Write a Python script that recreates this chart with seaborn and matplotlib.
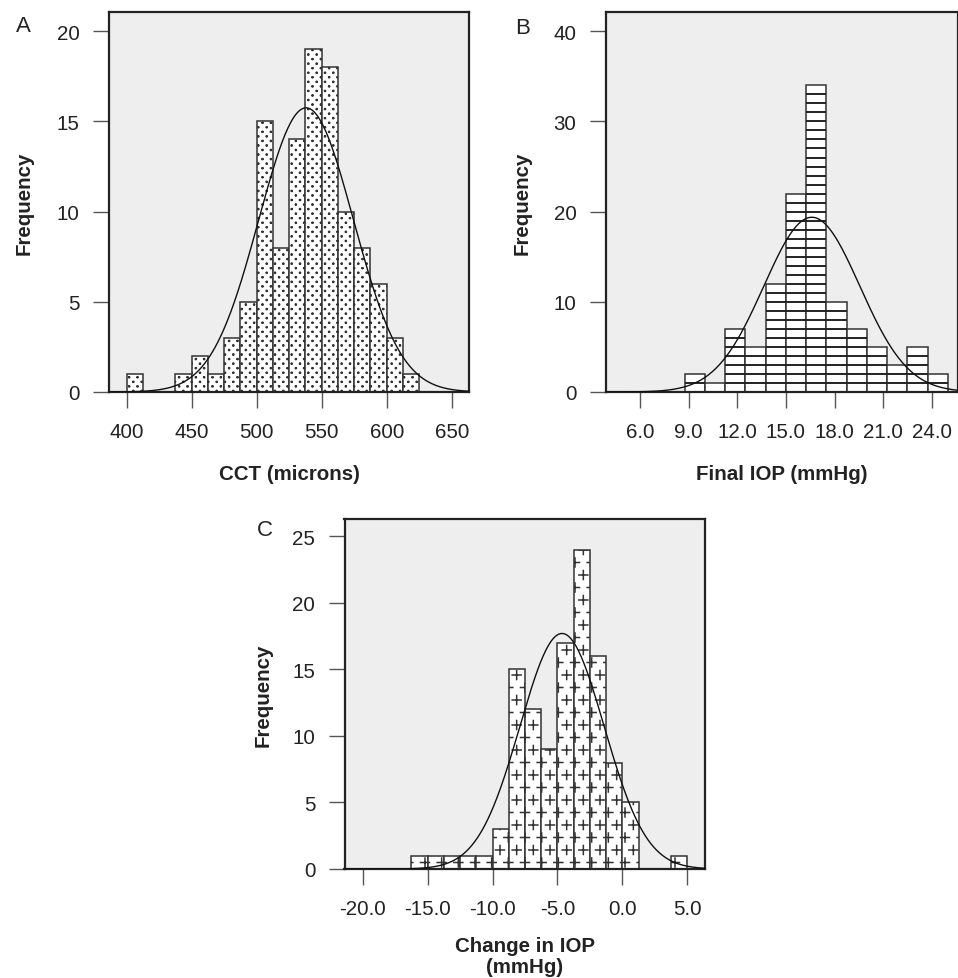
import numpy as np
import pandas as pd
import matplotlib
matplotlib.use("Agg")
import matplotlib.pyplot as plt
import matplotlib.hatch as mhatch
from matplotlib.path import Path
import seaborn as sns

# Data (counts per bin, bin start / width, fitted normal)
cct_start, cct_width = 400.0, 12.5
cct_counts = [1, 0, 0, 1, 2, 1, 3, 5, 15, 8, 14, 19, 18, 10, 8, 6, 3, 1]
cct_mean, cct_sd = 538.0, 36.4
cct_ticks = [400, 450, 500, 550, 600, 650]

iop_start, iop_width = 8.75, 1.25
iop_counts = [2, 1, 7, 5, 12, 22, 34, 10, 7, 5, 3, 5, 2]
iop_mean, iop_sd = 16.6, 2.96
iop_ticks = [6, 9, 12, 15, 18, 21, 24]

chg_start, chg_width = -16.25, 1.25
chg_counts = [1, 1, 1, 1, 1, 3, 15, 12, 9, 17, 24, 16, 8, 5, 0, 0, 1]
chg_mean, chg_sd = -4.65, 3.24
chg_ticks = [-20, -15, -10, -5, 0, 5]


# staggered small-mark hatches: '*' -> small plus signs, 'O' -> fine dots
class MarkHatch(mhatch.HatchPatternBase):
    char, nx, ny, arm = "*", 6, 8, 0.045

    def __init__(self, hatch, density):
        n = hatch.count(self.char)
        pts = []
        for r in range(self.ny + 1 if n else 0):
            shift = 0.5 / self.nx if r % 2 else 0.0
            for c in range(self.nx + 1):
                pts.append((c / self.nx + shift, r / self.ny))
        self.centers = np.array(pts).reshape(-1, 2)
        self.num_vertices = 4 * len(pts)

    def set_vertices_and_codes(self, vertices, codes):
        a = self.arm
        arms = np.array([[-a, 0], [a, 0], [0, -a], [0, a]])
        vertices[:] = (self.centers[:, None, :] + arms[None]).reshape(-1, 2)
        codes[:] = np.tile([Path.MOVETO, Path.LINETO, Path.MOVETO, Path.LINETO],
                           len(self.centers))


class DotHatch(MarkHatch):
    char, nx, ny, arm = "O", 12, 22, 0.005


mhatch._hatch_types = [t for t in mhatch._hatch_types
                       if t not in (mhatch.Stars, mhatch.LargeCircles)] + [MarkHatch, DotHatch]

sns.set_style("ticks")
plt.rcParams["font.family"] = ["Liberation Sans", "DejaVu Sans"]
plt.rcParams["hatch.linewidth"] = 1.1
plt.rcParams["hatch.color"] = "#222222"

W, H = 958, 979
fig = plt.figure(figsize=(W / 100, H / 100), dpi=100)


def px_axes(x0, y0, x1, y1):
    return fig.add_axes([x0 / W, 1 - y1 / H, (x1 - x0) / W, (y1 - y0) / H])


def panel(ax, start, width, counts, mean, sd, hatch, xlim, ylim, xticks, yticks,
          fmt, xlabel, xpad, ypad):
    counts = np.array(counts, dtype=float)
    edges = start + width * np.arange(len(counts) + 1)
    df = pd.DataFrame({"x": edges[:-1] + width / 2, "n": counts})
    sns.histplot(data=df, x="x", weights="n", binwidth=width,
                 binrange=(edges[0], edges[-1]), ax=ax, stat="count",
                 color="white", edgecolor="#333333", linewidth=1.1, alpha=1,
                 hatch=hatch)
    xs = np.linspace(xlim[0], xlim[1], 400)
    ys = counts.sum() * width * np.exp(-0.5 * ((xs - mean) / sd) ** 2) / (sd * np.sqrt(2 * np.pi))
    ax.plot(xs, ys, color="#111111", lw=1.0, zorder=3)
    ax.set_facecolor("#eeeeee")
    ax.set_xlim(*xlim)
    ax.set_ylim(*ylim)
    ax.set_xticks(xticks)
    ax.set_xticklabels([fmt.format(t) for t in xticks])
    ax.set_yticks(yticks)
    for s in ax.spines.values():
        s.set_visible(True)
        s.set_linewidth(1.6)
        s.set_color("#222222")
    ax.tick_params(direction="out", length=11.5, width=1.0, color="#555555",
                   labelsize=14.8, labelcolor="#222222")
    ax.tick_params(axis="x", pad=10)
    ax.tick_params(axis="y", pad=9.5)
    ax.set_xlabel(xlabel, fontsize=14.8, fontweight="bold", labelpad=xpad,
                  linespacing=1.15, color="#222222")
    ax.set_ylabel("Frequency", fontsize=14.8, fontweight="bold", labelpad=ypad,
                  color="#222222")
    return edges, counts


# A: CCT
axA = px_axes(109, 13.3, 469, 393)
panel(axA, cct_start, cct_width, cct_counts, cct_mean, cct_sd, "O",
      (386.4, 663.3), (0, 21.05), cct_ticks, [0, 5, 10, 15, 20], "{:d}",
      "CCT (microns)", 17, 17)

# B: final IOP, one horizontal band per count
axB = px_axes(605.7, 13.3, 957.5, 393)
edges, counts = panel(axB, iop_start, iop_width, iop_counts, iop_mean, iop_sd, None,
                      (3.88, 25.59), (0, 42.1), iop_ticks, [0, 10, 20, 30, 40],
                      "{:.1f}", "Final IOP (mmHg)", 17, 16)
n_lines = np.maximum(counts.astype(int) - 1, 0)
line_y = np.concatenate([np.arange(1, c + 1) for c in n_lines])
line_x0 = np.repeat(edges[:-1], n_lines)
line_x1 = np.repeat(edges[1:], n_lines)
axB.hlines(line_y, line_x0, line_x1, color="#222222", lw=1.4, zorder=2)

# C: change in IOP
axC = px_axes(344.5, 520, 705, 870)
panel(axC, chg_start, chg_width, chg_counts, chg_mean, chg_sd, "*",
      (-21.4, 6.36), (0, 26.3), chg_ticks, [0, 5, 10, 15, 20, 25], "{:.1f}",
      "Change in IOP\n(mmHg)", 13, 14.5)

# panel letters
for letter, x, y in [("A", 23, 27), ("B", 523, 28), ("C", 265, 531)]:
    fig.text(x / W, 1 - y / H, letter, fontsize=16, ha="center", va="center",
             color="#222222")

fig.savefig("out.png", dpi=100)
